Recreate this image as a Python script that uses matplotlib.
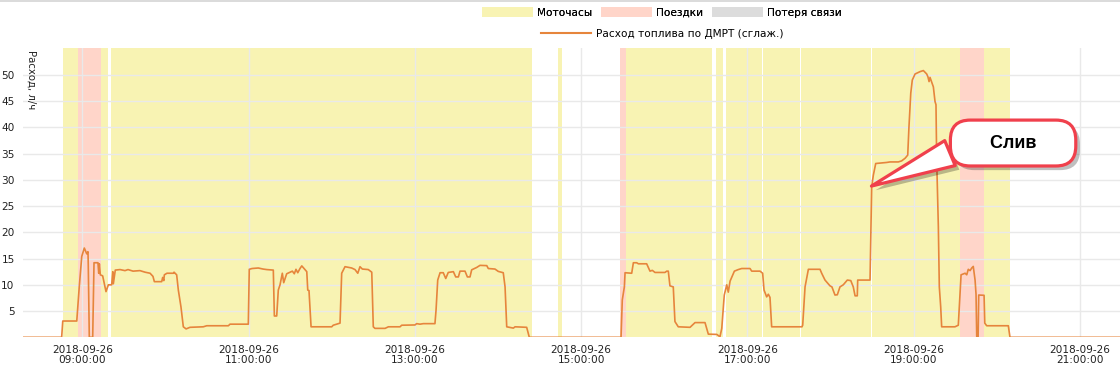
import matplotlib
matplotlib.use('Agg')
import matplotlib.pyplot as plt
import matplotlib.dates as mdates
import matplotlib.patheffects as pe
from matplotlib.patches import Patch
from matplotlib.lines import Line2D
import pandas as pd

BASE = pd.Timestamp('2018-09-26 08:00:00')

# Fuel consumption (smoothed), minutes after 08:00 and l/h
fuel_min = [17.2, 45.1, 45.9, 56.0, 57.8, 59.6, 61.45, 63.2, 64.1, 64.3, 65.05, 67.5, 68.45,
            71.3, 71.85, 72.3, 73.0, 74.7, 77.1, 78.8, 81.2, 82.0, 82.4, 83.8, 87.2, 90.8,
            93.0, 96.6, 101.6, 105.3, 108.9, 111.0, 112.0, 117.3, 118.0, 118.8, 119.2, 121.1,
            125.7, 126.2, 128.1, 129.3, 131.2, 132.9, 134.9, 137.7, 147.3, 149.8, 165.4, 166.6,
            179.8, 180.5, 182.5, 187.0, 190.4, 193.1, 197.85, 198.6, 200.3, 201.45, 202.7,
            204.35, 205.35, 207.5, 209.9, 211.6, 213.0, 214.2, 215.5, 217.1, 218.4, 220.7,
            222.0, 222.7, 223.6, 225.1, 240.0, 241.1, 246.0, 247.2, 249.6, 254.4, 256.8, 258.8,
            260.4, 262.1, 266.4, 268.9, 270.0, 271.2, 278.5, 280.9, 289.3, 290.5, 300.1, 301.3,
            303.7, 306.1, 314.5, 315.3, 316.5, 318.2, 320.5, 322.3, 324.1, 327.8, 329.5, 331.4,
            332.6, 336.2, 337.9, 339.8, 341.0, 344.6, 347.0, 351.9, 353.0, 357.8, 360.2, 363.8,
            365.1, 366.3, 371.1, 372.3, 380.7, 382.6, 448.8, 449.7, 451.2, 451.7, 456.5, 457.7,
            460.1, 461.3, 467.3, 469.7, 471.4, 473.3, 480.5, 481.8, 482.9, 484.1, 486.5, 487.7,
            490.1, 498.6, 502.2, 509.4, 511.8, 517.9, 520.2, 521.5, 523.3, 525.1, 526.2, 527.5,
            530.6, 533.4, 535.9, 541.9, 543.1, 549.1, 551.0, 552.0, 553.9, 555.1, 556.3, 557.5,
            579.4, 579.9, 581.6, 584.0, 592.4, 593.6, 596.0, 599.6, 601.0, 603.2, 604.9, 606.8,
            609.2, 612.1, 614.6, 616.4, 617.7, 619.3, 619.6, 628.5, 629.7, 630.9, 632.6, 640.5,
            642.9, 648.9, 651.3, 653.8, 655.7, 656.6, 657.9, 659.0, 661.0, 664.6, 667.0, 669.4,
            670.3, 671.1, 671.8, 674.2, 675.4, 676.1, 676.6, 677.8, 678.5, 679.5, 680.2, 689.8,
            692.2, 692.9, 694.2, 697.1, 698.3, 699.4, 700.7, 701.9, 703.0, 704.3, 705.0, 705.5,
            706.5, 706.95, 710.8, 711.3, 712.7, 728.3, 729.5, 808.9]
fuel_val = [0, 0, 3.1, 3.1, 9.6, 15.4, 17.0, 15.9, 16.3, 13.8, 0, 0, 14.2,
            14.2, 12.2, 14.0, 11.9, 11.7, 8.7, 10.0, 10.0, 12.5, 10.2, 12.8, 12.9, 12.7,
            12.9, 12.6, 12.7, 12.4, 12.2, 11.6, 10.6, 10.6, 11.4, 10.8, 11.9, 12.2,
            12.2, 12.4, 11.9, 9.0, 5.8, 2.0, 1.6, 1.9, 2.0, 2.2, 2.2, 2.5,
            2.5, 12.95, 13.1, 13.2, 13.0, 12.9, 12.8, 4.06, 4.06, 9.0, 10.0,
            12.2, 10.4, 12.1, 12.4, 12.6, 12.1, 12.95, 12.3, 13.1, 13.6, 12.9,
            12.5, 9.0, 8.9, 2.0, 2.0, 2.3, 2.7, 12.2, 13.45, 13.2, 12.9, 12.2,
            13.45, 13.0, 12.9, 12.4, 2.0, 1.7, 1.7, 2.0, 2.0, 2.3, 2.35, 2.6,
            2.5, 2.6, 2.6, 5.2, 10.9, 12.3, 12.3, 11.2, 12.35, 12.5, 11.5, 11.5,
            12.6, 12.6, 11.5, 11.5, 12.85, 13.3, 13.7, 13.65, 13.1, 13.0, 12.55, 12.3,
            9.6, 2.0, 1.75, 2.0, 1.9, 0, 0, 7.1, 9.6, 12.3, 12.2, 14.2,
            14.2, 14.0, 14.0, 12.6, 12.75, 12.35, 12.35, 12.6, 12.6, 9.8, 9.6, 3.0,
            2.0, 1.9, 2.8, 2.8, 0.6, 0.55, 0.1, 1.7, 8.05, 10.0, 8.6, 10.7,
            12.6, 12.9, 13.1, 13.1, 12.6, 12.6, 12.2, 9.0, 7.7, 8.2, 7.6, 2.0,
            2.0, 2.3, 9.6, 12.95, 12.95, 12.2, 10.9, 9.8, 9.6, 8.05, 8.1, 9.6,
            10.0, 10.9, 10.8, 9.6, 7.9, 7.9, 10.9, 10.9, 28.7, 30.9, 33.1, 33.3,
            33.4, 33.4, 33.6, 34.1, 34.7, 40.1, 46.5, 49.0, 50.15, 50.6, 50.8, 50.15,
            49.6, 48.7, 49.5, 47.7, 44.9, 44.3, 33.8, 21.1, 9.6, 5.8, 2.0, 2.0,
            2.3, 5.8, 11.9, 12.2, 11.9, 12.95, 12.7, 13.2, 13.5, 10.9, 8.2, 0.1,
            0.1, 8.05, 8.0, 2.7, 2.2, 2.2, 0, 0]

# Engine-hours (Моточасы) intervals, minutes after 08:00
engine_start = [46.3, 80.7, 403.3, 452.4, 517.3, 524.6, 551.4, 578.8, 629.8]
engine_end = [78.3, 384.6, 406.2, 514.5, 522.6, 550.7, 578.1, 629.1, 729.5]
# Trips (Поездки) intervals
trip_start = [56.9, 448.1, 693.4]
trip_end = [73.5, 452.4, 710.8]

legend_labels = ['Моточасы', 'Поездки', 'Потеря связи']
line_label = 'Расход топлива по ДМРТ (сглаж.)'
y_label = 'Расход, л/ч'
drain_label = 'Слив'
drain_min = 629.5
drain_val = 28.8
y_ticks = [5, 10, 15, 20, 25, 30, 35, 40, 45, 50]
x_ticks = ['2018-09-26 09:00', '2018-09-26 11:00', '2018-09-26 13:00', '2018-09-26 15:00',
           '2018-09-26 17:00', '2018-09-26 19:00', '2018-09-26 21:00']
x_range = [17.2, 808.9]

YELLOW = '#f8f3b3'
PINK = '#ffd5c9'
GRAY = '#dcdcdc'
ORANGE = '#e6853c'
RED = '#f0404c'
GRID = '#e9e9e9'


def tm(m):
    return BASE + pd.to_timedelta(m, unit='min')


fig = plt.figure(figsize=(11.2, 3.88), dpi=100)
ax = fig.add_axes([23 / 1120, 50.7 / 388, 1 - 23 / 1120, (337.3 - 48) / 388])

for s, e in zip(engine_start, engine_end):
    ax.axvspan(tm(s), tm(e), color=YELLOW, lw=0, zorder=0.2)
for s, e in zip(trip_start, trip_end):
    ax.axvspan(tm(s), tm(e), color=PINK, lw=0, zorder=0.3)

ax.plot(tm(pd.Series(fuel_min)), fuel_val, color=ORANGE, lw=1.2, zorder=3)

ax.set_axisbelow(True)
ax.grid(True, color=GRID, lw=1.0)
ax.set_ylim(0, 55.1)
ax.set_yticks(y_ticks)
ax.set_xlim(tm(x_range[0]), tm(x_range[1]))
ax.set_xticks(pd.to_datetime(x_ticks))
ax.xaxis.set_major_formatter(mdates.DateFormatter('%Y-%m-%d\n%H:%M:%S'))
ax.tick_params(axis='both', length=0, labelsize=7.6, colors='#222222')
ax.tick_params(axis='y', pad=6)
ax.tick_params(axis='x', pad=5.5)
for lbl in ax.get_xticklabels():
    lbl.set_linespacing(1.0)
for sp in ax.spines.values():
    sp.set_visible(False)

fig.text(31 / 1120, 1 - 50 / 388, y_label, rotation=-90, ha='center', va='top',
         fontsize=7.3, color='#222222')

# Legends
h1 = [Patch(fc=YELLOW, ec='none'), Patch(fc=PINK, ec='none'), Patch(fc=GRAY, ec='none')]
leg1 = fig.legend(h1, legend_labels, ncol=3, loc='upper center', bbox_to_anchor=(662 / 1120, 1 - 5 / 388),
                  frameon=False, fontsize=7.6, handlelength=4.8, handleheight=1.05,
                  handletextpad=0.4, columnspacing=0.85, borderpad=0.2, borderaxespad=0)
fig.add_artist(leg1)
h2 = [Line2D([], [], color=ORANGE, lw=1.5)]
leg2 = fig.legend(h2, [line_label], loc='upper center', bbox_to_anchor=(662 / 1120, 1 - 27 / 388),
                  frameon=False, fontsize=7.6, handlelength=4.8, handletextpad=0.45,
                  borderpad=0.2, borderaxespad=0)

# top border
fig.add_artist(Line2D([0, 1], [1 - 0.5 / 388, 1 - 0.5 / 388], transform=fig.transFigure,
                      color='#d4d4d4', lw=1.2))

# Callout
ann = ax.annotate('     ' + drain_label + '     ', xy=(tm(drain_min), drain_val), xytext=(102, 31),
                  textcoords='offset points', ha='center', va='center',
                  fontsize=13, fontweight='bold', family='Liberation Sans', color='black',
                  bbox=dict(boxstyle='round,pad=0.8,rounding_size=1.1', fc='white', ec=RED, lw=2.3),
                  arrowprops=dict(arrowstyle='wedge,tail_width=1.5,shrink_factor=0.5', fc='white', ec=RED, lw=2.3,
                                  relpos=(0.06, 0.42), shrinkA=0, shrinkB=0),
                  zorder=5)
shadow = [pe.SimplePatchShadow(offset=(3, -3), shadow_rgbFace='black', alpha=0.25), pe.Normal()]
ann.get_bbox_patch().set_path_effects(shadow)
ann.arrow_patch.set_path_effects(shadow)

fig.savefig('out.png', dpi=100)
